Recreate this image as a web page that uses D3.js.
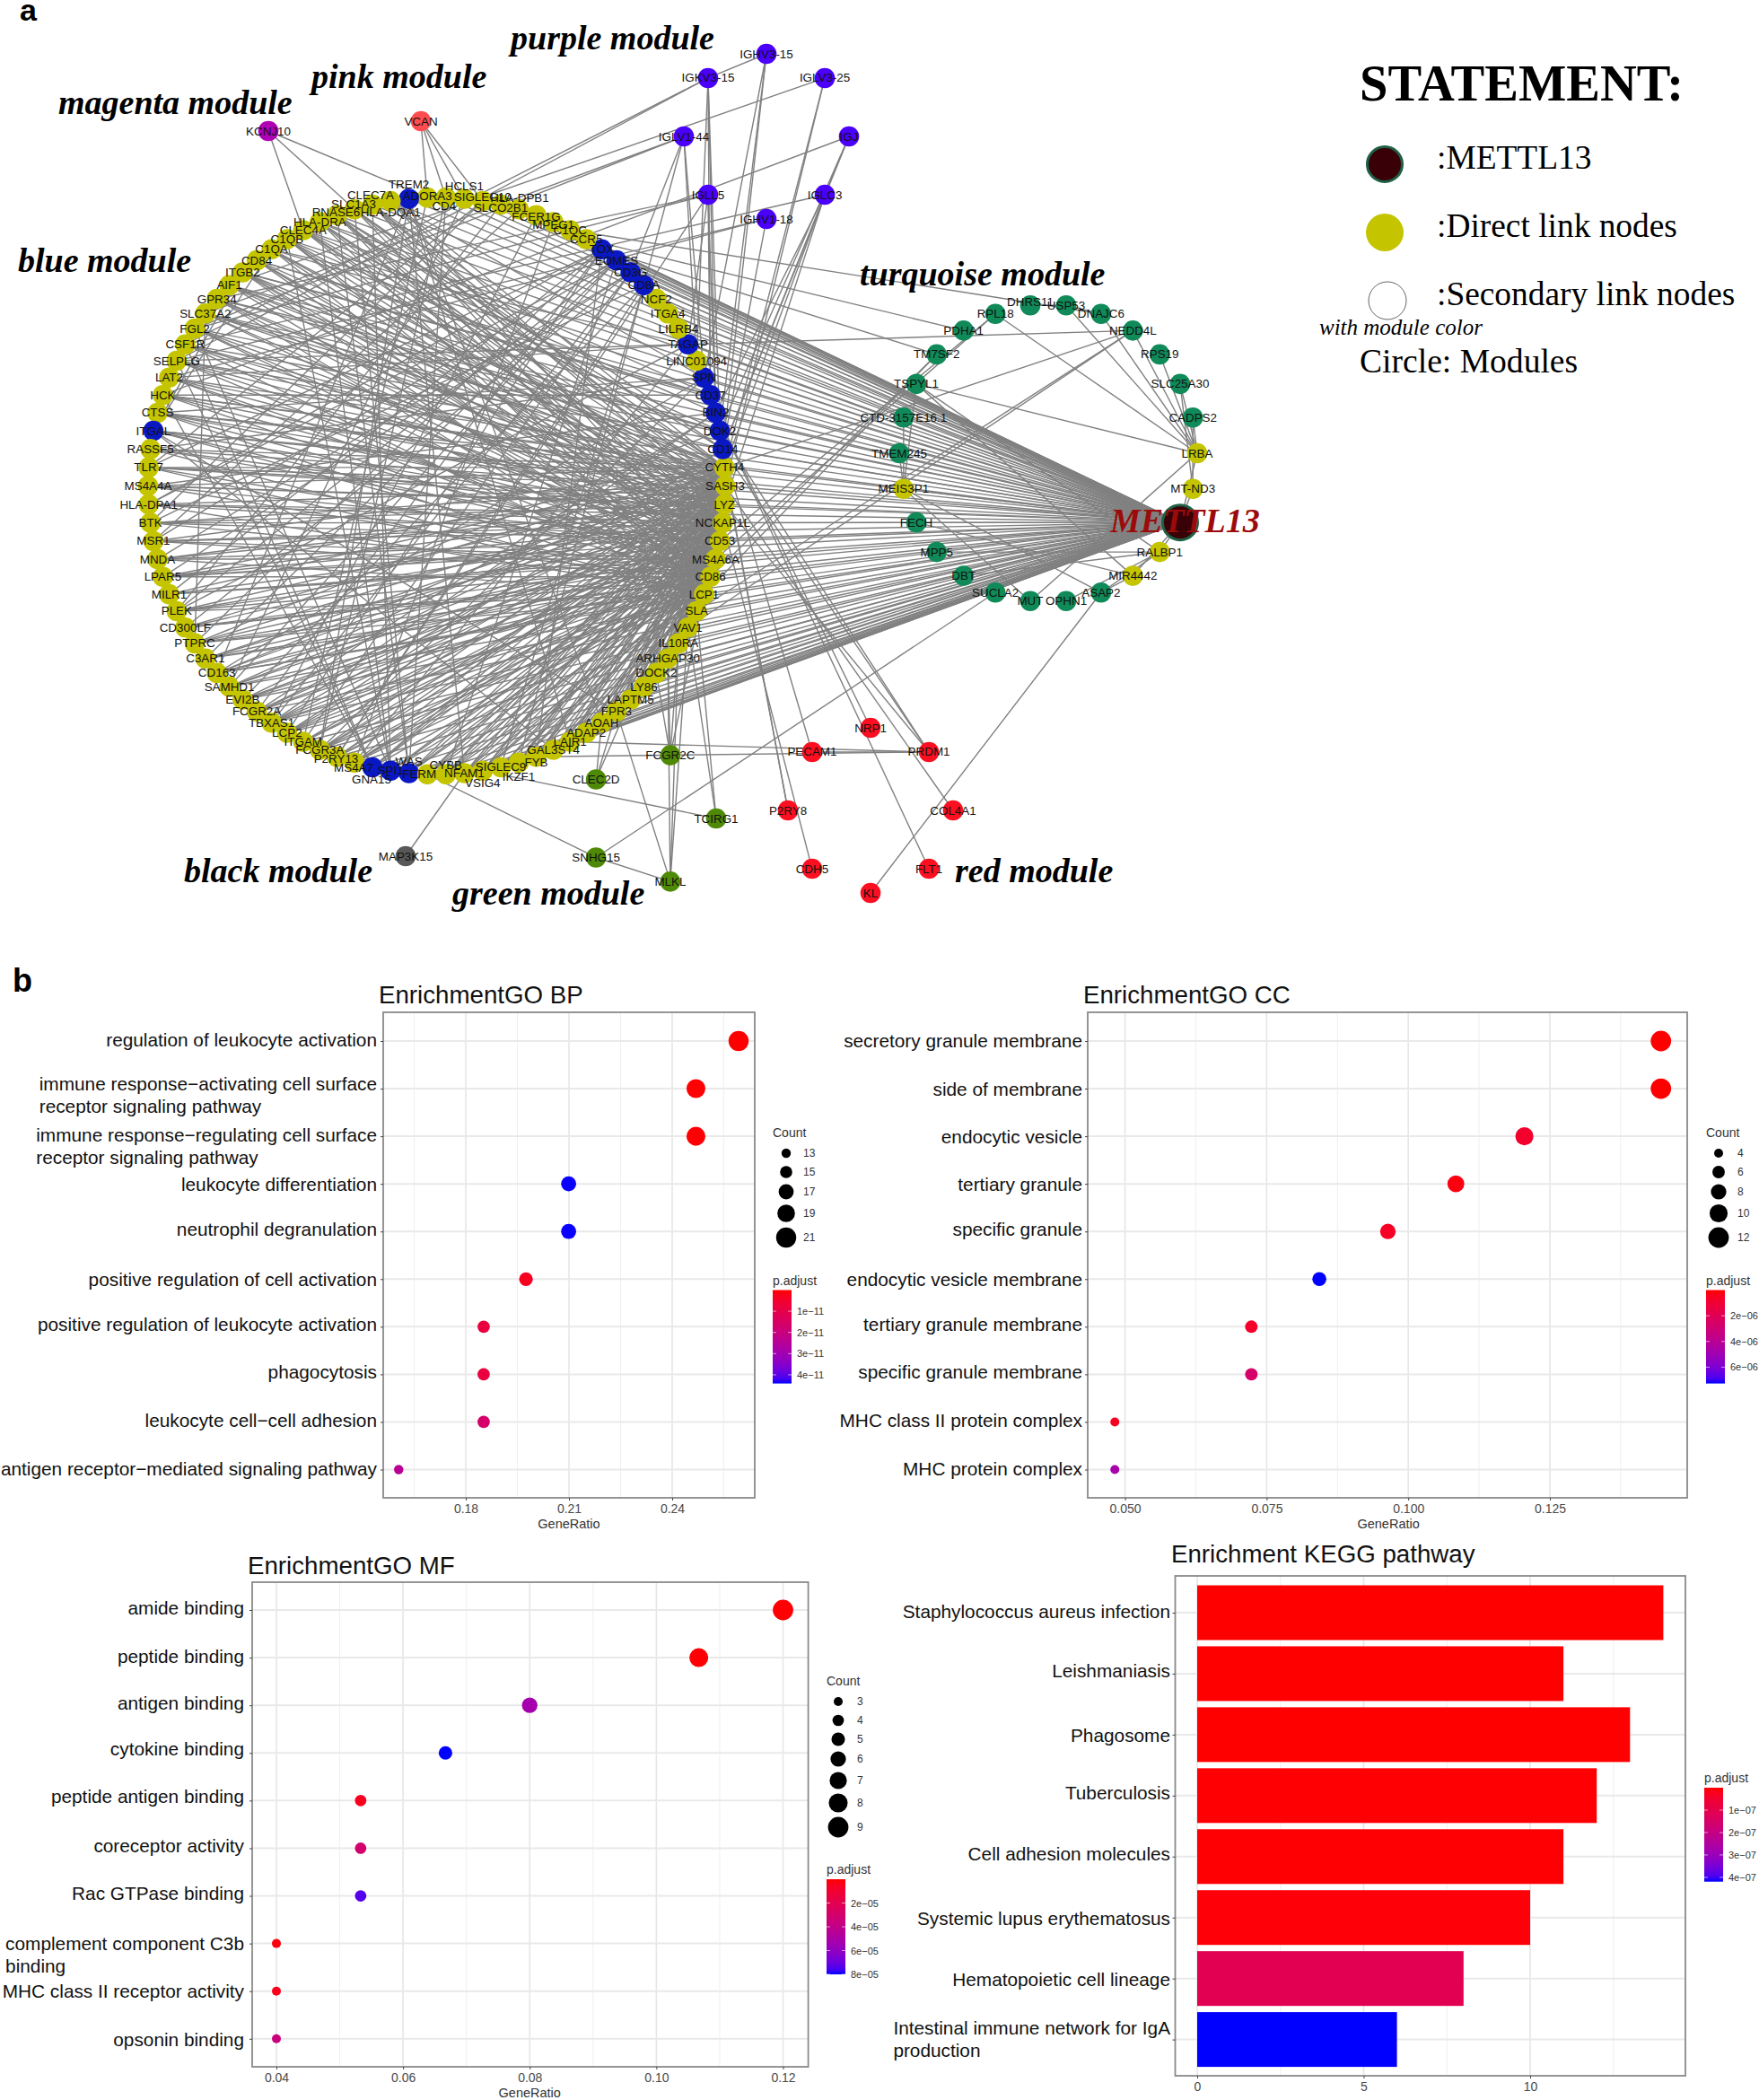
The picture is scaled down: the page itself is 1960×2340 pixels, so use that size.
<!DOCTYPE html>
<html><head><meta charset="utf-8">
<script src="https://cdn.jsdelivr.net/npm/d3@7"></script>
<style>html,body{margin:0;background:#fff}svg{display:block}text{font-family:"Liberation Sans",Arial,sans-serif}</style>
</head><body><div id="c"></div>
<script>
// ---------- network data ----------
const ringNodes=["ADORA3","TREM2","HLA-DQA1","CLEC7A","SLC1A3","RNASE6","HLA-DRA","CLEC4A","C1QB","C1QA","CD84","ITGB2","AIF1","GPR34","SLC37A2","FGL2","CSF1R","SELPLG","LAT2","HCK","CTSS","ITGAL","RASSF5","TLR7","MS4A4A","HLA-DPA1","BTK","MSR1","MNDA","LPAR5","MILR1","PLEK","CD300LF","PTPRC","C3AR1","CD163","SAMHD1","EVI2B","FCGR2A","TBXAS1","LCP2","ITGAM","FCGR3A","P2RY13","MS4A7","GNA15","SPI1","WAS","FERM","CYBB","NFAM1","VSIG4","SIGLEC9","IKZF1","FYB","GAL3ST4","LAIR1","ADAP2","AOAH","FPR3","LAPTM5","LY86","DOCK2","ARHGAP30","IL10RA","VAV1","SLA","LCP1","CD86","MS4A6A","CD53","NCKAP1L","LYZ","SASH3","CYTH4","CD14","DOK2","BIN2","CD37","SPN","LINC01094","TAGAP","LILRB4","ITGA4","NCF2","CD8A","CD3G","EOMES","TOX","CCR5","C1QC","MPEG1","FCER1G","HLA-DPB1","SLCO2B1","SIGLEC10","HCLS1","CD4"];
const ringBlue=["TREM2","ITGAL","GNA15","SPI1","WAS","CD14","DOK2","BIN2","CD37","SPN","TAGAP","CD8A","CD3G","EOMES","TOX"];
const turquoiseNodes=["LRBA","MT-ND3","METTL13","RALBP1","MIR4442","ASAP2","OPHN1","MUT","SUCLA2","DBT","MPP5","FECH","MEIS3P1","TMEM245","CTD-3157E16.1","TSPYL1","TM7SF2","PDHA1","RPL18","DHRS11","USP53","DNAJC6","NEDD4L","RPS19","SLC25A30","CADPS2"];
const directYellow=["LRBA","MT-ND3","RALBP1","MIR4442","MEIS3P1"];
const purpleNodes=["IGHV3-15","IGLV3-25","IGJ","IGLC3","IGHV1-18","IGLL5","IGLV1-44","IGKV3-15"];
const redNodes=["NRP1","PRDM1","COL4A1","FLT1","KL","CDH5","P2RY8","PECAM1"];
const greenNodes=["FCGR2C","TCIRG1","MLKL","SNHG15","CLEC2D"];
const pinkNodes=["VCAN"],magentaNodes=["KCNJ10"],blackNodes=["MAP3K15"];
const satelliteEdges=[
"KCNJ10|CLEC4A","KCNJ10|SLC1A3","KCNJ10|ADORA3","VCAN|CD4","VCAN|HCLS1","VCAN|SIGLEC10","VCAN|ADORA3",
"IGKV3-15|CSF1R","IGKV3-15|SELPLG","IGKV3-15|CD37","IGKV3-15|DOK2","IGKV3-15|BIN2","IGKV3-15|LINC01094","IGHV3-15|IGKV3-15","IGHV3-15|DOK2","IGHV3-15|CD14","IGHV3-15|SPN",
"IGLV3-25|AIF1","IGLV3-25|CYTH4","IGLV3-25|SASH3","IGLV1-44|FGL2","IGLV1-44|SLC37A2","IGLV1-44|SPN","IGLV1-44|LINC01094","IGLV1-44|CD3G","IGLV1-44|CD8A",
"IGLL5|GPR34","IGLL5|FGL2","IGLL5|BIN2","IGLL5|CD37","IGLL5|TAGAP","IGLL5|P2RY13","IGJ|HCK","IGJ|IGLC3","IGJ|DOK2","IGJ|CD14",
"IGLC3|CSF1R","IGLC3|CD14","IGLC3|CYTH4","IGLC3|LYZ","IGLC3|BIN2","IGHV1-18|SELPLG","IGHV1-18|LAT2","IGHV1-18|CD14",
"DNAJC6|C1QC","PDHA1|CCR5","TM7SF2|TOX","NEDD4L|TAGAP","NEDD4L|CYTH4","NEDD4L|VAV1","NEDD4L|SLA","RPL18|CD53","RPL18|MS4A6A","TM7SF2|LCP1","TM7SF2|CD86",
"TSPYL1|LRBA","TSPYL1|MIR4442","TSPYL1|RALBP1","TSPYL1|MEIS3P1","CTD-3157E16.1|MEIS3P1","TMEM245|MEIS3P1","RPL18|LRBA","USP53|LRBA","DNAJC6|LRBA","NEDD4L|LRBA","RPS19|LRBA","SLC25A30|LRBA","SLC25A30|MT-ND3","CADPS2|LRBA","CADPS2|MT-ND3","MEIS3P1|MUT","MEIS3P1|ASAP2","FECH|MIR4442","MPP5|RALBP1","DBT|RALBP1","MUT|LRBA","ASAP2|MIR4442","ASAP2|RALBP1","OPHN1|RALBP1","DHRS11|USP53","USP53|DNAJC6",
"SUCLA2|SNHG15","KL|ASAP2","FLT1|BIN2","NRP1|BIN2","PRDM1|LYZ","PRDM1|DOK2","PRDM1|CD14","COL4A1|SASH3","PECAM1|CD14","PECAM1|PRDM1","LAIR1|PRDM1","FYB|PRDM1","P2RY8|CD37","P2RY8|CYTH4","CDH5|NCKAP1L",
"FCGR2C|ARHGAP30","FCGR2C|IL10RA","FCGR2C|LCP1","FCGR2C|DOCK2","TCIRG1|VAV1","TCIRG1|SLA","TCIRG1|VSIG4","MLKL|IL10RA","MLKL|VAV1","MLKL|FPR3","MLKL|ARHGAP30","MLKL|SNHG15","CLEC2D|AOAH","CLEC2D|LAPTM5","CLEC2D|FPR3","SNHG15|FERM","MAP3K15|NFAM1"];
const ringEdges=[
"GNA15|SELPLG","WAS|CD4","SPI1|CLEC7A","SPI1|HLA-DRA","GNA15|HCK","GNA15|CSF1R","WAS|SLC1A3","WAS|RNASE6","SPI1|FGL2","SPI1|C1QB",
"TREM2|FCGR3A","TREM2|CD163","TREM2|NFAM1","TREM2|LAIR1","TREM2|AOAH","ITGAL|GAL3ST4","ITGAL|ITGB2","ITGAL|C1QA","ITGAL|FPR3",
"TOX|TLR7","TOX|MILR1","TOX|PTPRC","TOX|FCGR2A","TOX|LCP2","TOX|FYB","EOMES|HLA-DPA1","EOMES|MSR1","EOMES|PLEK","EOMES|C3AR1","EOMES|SAMHD1","EOMES|CYBB","CD3G|MNDA","CD3G|LPAR5","CD3G|CD300LF","CD3G|TBXAS1","CD3G|ITGAM","CD8A|BTK","CD8A|EVI2B","CD8A|P2RY13","CD8A|IKZF1","CD8A|SIGLEC9",
"TAGAP|SELPLG","TAGAP|PLEK","TAGAP|LAT2","TAGAP|C1QA","TAGAP|MS4A7","SPN|RASSF5","SPN|CD163","SPN|CTSS","SPN|HLA-DQA1","SPN|FCGR3A","CD37|CD84","CD37|ITGB2","CD37|HCK","CD37|HLA-DRA","BIN2|CLEC4A","BIN2|MS4A4A","BIN2|FCGR2A","BIN2|TBXAS1","DOK2|C1QB","DOK2|AIF1","DOK2|GPR34","DOK2|PTPRC","CD14|SLC37A2","CD14|RNASE6","CD14|CLEC7A","CD14|LCP2",
"SLC37A2|PTPRC","HLA-DPA1|TOX","SIGLEC10|TLR7","SIGLEC10|BTK","HLA-DPB1|MSR1","FCER1G|TBXAS1","SLCO2B1|PLEK","CD4|FCGR3A","ADORA3|ITGAM","HCLS1|SAMHD1","MPEG1|MS4A7"];
// hub genes on the right of the ring, and which ring genes (HLA-DQA1 ... IL10RA, in ring order) each one links to
const hubGenes=["CYTH4","SASH3","LYZ","NCKAP1L","CD53","MS4A6A","CD86","LCP1"];
const hubFirst="HLA-DQA1";
const hubPartners=[
"101101001110100101101110010110100111010010110101110100101101001",
"011010110010111010010101101001011100101101010011010110100110110",
"110011010101001101100110101100101010110011010110100111001011001",
"001101101011010010111001010111010011001110101001011010110100111",
"010110011100101101001011100101001101110100101110101001011011010",
"100101100101110010110100011010110100101011100101010110100101101",
"011000101010010111010010110100101011010001011010010101011010010",
"000110010101001000101101001001010100011010100001101001100110101"];
// ---------- enrichment data ----------
const bpTerms=["regulation of leukocyte activation","immune response−activating cell surface\nreceptor signaling pathway","immune response−regulating cell surface\nreceptor signaling pathway","leukocyte differentiation","neutrophil degranulation","positive regulation of cell activation","positive regulation of leukocyte activation","phagocytosis","leukocyte cell−cell adhesion","antigen receptor−mediated signaling pathway"];
const bpRatio=[.2593,.2469,.2469,.2099,.2099,.1975,.1852,.1852,.1852,.1605];
const bpCount=[21,20,20,17,17,16,15,15,15,13];
const bpPadj=[1e-13,2e-13,3e-13,4.4e-11,4.4e-11,3e-12,8e-12,8e-12,1.6e-11,2.4e-11];
const ccTerms=["secretory granule membrane","side of membrane","endocytic vesicle","tertiary granule","specific granule","endocytic vesicle membrane","tertiary granule membrane","specific granule membrane","MHC class II protein complex","MHC protein complex"];
const ccRatio=[.1446,.1446,.1205,.1084,.0964,.0843,.0723,.0723,.0482,.0482];
const ccCount=[12,12,10,9,8,7,6,6,4,4];
const ccPadj=[1e-8,1e-8,8e-7,2e-7,6e-7,7.27e-6,7e-7,2.6e-6,5e-7,4.7e-6];
const mfTerms=["amide binding","peptide binding","antigen binding","cytokine binding","peptide antigen binding","coreceptor activity","Rac GTPase binding","complement component C3b\nbinding","MHC class II receptor activity","opsonin binding"];
const mfRatio=[.12,.1067,.08,.0667,.0533,.0533,.0533,.04,.04,.04];
const mfCount=[9,8,6,5,4,4,4,3,3,3];
const mfPadj=[5e-7,5e-7,5.3e-5,8e-5,5e-6,3e-5,7.4e-5,2e-6,4e-6,3.5e-5];
const keggTerms=["Staphylococcus aureus infection","Leishmaniasis","Phagosome","Tuberculosis","Cell adhesion molecules","Systemic lupus erythematosus","Hematopoietic cell lineage","Intestinal immune network for IgA\nproduction"];
const keggCount=[14,11,13,12,11,10,8,6];
const keggPadj=[1e-10,1e-10,1e-10,3e-9,3e-9,5e-9,1.1e-7,4.19e-7];

// ---------- canvas ----------
const svg=d3.select("#c").append("svg").attr("width",1960).attr("height",2340);
const gEdges=svg.append("g"),gNodes=svg.append("g"),gLabels=svg.append("g"),gTop=svg.append("g");

// ---------- network layout: every module is a circle of evenly spaced nodes ----------
const nodeColor={ring:"#c4c500",blue:"#0a18c4",turquoise:"#0f8a58",purple:"#4a00fa",red:"#fb0f20",green:"#4f8a06",pink:"#ff4c50",magenta:"#b000b4",black:"#585858"};
const modules=[
 {names:ringNodes,cx:486.5,cy:541.5,r:321.5,a0:-Math.PI/98,dir:-1,color:nodeColor.ring},
 {names:turquoiseNodes,cx:1168,cy:505,r:166,a0:Math.PI/2,dir:1,color:nodeColor.turquoise},
 {names:purpleNodes,cx:854,cy:152,r:92,a0:0,dir:1,color:nodeColor.purple},
 {names:redNodes,cx:970,cy:903,r:92,a0:0,dir:1,color:nodeColor.red},
 {names:greenNodes,cx:724,cy:912,r:74,a0:Math.PI/10,dir:1,color:nodeColor.green},
 {names:pinkNodes,cx:469,cy:135,r:0,a0:0,dir:1,color:nodeColor.pink},
 {names:magentaNodes,cx:299,cy:146,r:0,a0:0,dir:1,color:nodeColor.magenta},
 {names:blackNodes,cx:452,cy:954,r:0,a0:0,dir:1,color:nodeColor.black}];
const nodes=[],byName={};
modules.forEach(m=>{
  const angle=d3.scaleLinear().domain([0,m.names.length]).range([m.a0,m.a0+m.dir*2*Math.PI]);
  m.names.forEach((n,i)=>{
    const [dx,dy]=d3.pointRadial(angle(i),m.r);
    let color=m.color;
    if(ringBlue.includes(n))color=nodeColor.blue;
    if(directYellow.includes(n))color=nodeColor.ring;
    const o={name:n,x:m.cx+dx,y:m.cy+dy,color};
    nodes.push(o);byName[n]=o;
  });
});
const hub=byName["METTL13"];
const links=[];
ringNodes.concat(directYellow).forEach(n=>links.push([byName[n],hub]));
satelliteEdges.concat(ringEdges).forEach(e=>{const [a,b]=e.split("|");links.push([byName[a],byName[b]]);});
const partnerStart=ringNodes.indexOf(hubFirst);
hubGenes.forEach((h,k)=>{
  hubPartners[k].split("").forEach((bit,j)=>{ if(bit==="1")links.push([byName[ringNodes[partnerStart+j]],byName[h]]); });
});
gEdges.selectAll("line").data(links).join("line")
 .attr("x1",d=>d[0].x).attr("y1",d=>d[0].y).attr("x2",d=>d[1].x).attr("y2",d=>d[1].y)
 .attr("stroke","#808080").attr("stroke-width",1.4);
gNodes.selectAll("circle").data(nodes.filter(d=>d!==hub)).join("circle")
 .attr("cx",d=>d.x).attr("cy",d=>d.y).attr("r",11.3).attr("fill",d=>d.color);
gNodes.append("circle").attr("cx",hub.x).attr("cy",hub.y).attr("r",19.5).attr("fill","#3a0007").attr("stroke","#1e6045").attr("stroke-width",3);
const labelShift={"TREM2":[0,-16],"HLA-DQA1":[0,12],"CLEC7A":[-2,-11],"SLC1A3":[-1,-6],"RNASE6":[-1,-3],"CD4":[-2,9],"HCLS1":[0,-14],"SIGLEC10":[0,-5],"HLA-DPB1":[1,-13],"SLCO2B1":[0,3],"ADORA3":[0,-2],
 "WAS":[0,-13],"GNA15":[-1,14],"MS4A7":[-1,6],"P2RY13":[-1,2],"FERM":[-9,0],"CYBB":[0,-10],"VSIG4":[0,14],"IKZF1":[0,16],"FYB":[0,6],"DHRS11":[0,-4],"FCER1G":[0,2],"MPEG1":[0,3]};
gLabels.selectAll("text").data(nodes.filter(d=>d!==hub)).join("text")
 .attr("x",d=>d.x+(labelShift[d.name]?labelShift[d.name][0]:0))
 .attr("y",d=>d.y+(labelShift[d.name]?labelShift[d.name][1]:0))
 .attr("text-anchor","middle").attr("dominant-baseline","central")
 .attr("font-size",13.4).attr("fill","#111").text(d=>d.name);

// module titles
const serifFam='"Liberation Serif",serif';
const moduleTitles=[["purple module",569,55],["pink module",347,98],["magenta module",65,127],["blue module",20,303],["turquoise module",958,318],["black module",205,983],["green module",504,1008],["red module",1064,983]];
gTop.selectAll("text.mt").data(moduleTitles).join("text").attr("class","mt")
 .attr("x",d=>d[1]).attr("y",d=>d[2]).style("font-family",serifFam).attr("font-weight","bold").attr("font-style","italic").attr("font-size",38).attr("fill","#000").text(d=>d[0]);
gTop.append("text").attr("x",1237).attr("y",593).style("font-family",serifFam).attr("font-weight","bold").attr("font-style","italic").attr("font-size",38).attr("fill","#9c0b0b").text("METTL13");
gTop.append("text").attr("x",22).attr("y",23).attr("font-weight","bold").attr("font-size",34).text("a");
gTop.append("text").attr("x",14).attr("y",1105).attr("font-weight","bold").attr("font-size",36).text("b");

// statement legend
const stmt=[[":METTL13",188],[":Direct link nodes",264],[":Secondary link nodes",340]];
gTop.append("text").attr("x",1515).attr("y",112).style("font-family",serifFam).attr("font-weight","bold").attr("font-size",56.5).text("STATEMENT:");
gTop.selectAll("text.st").data(stmt).join("text").attr("class","st").attr("x",1601).attr("y",d=>d[1]).style("font-family",serifFam).attr("font-size",37.4).attr("fill","#000").text(d=>d[0]);
gTop.append("circle").attr("cx",1543).attr("cy",183).attr("r",19.5).attr("fill","#3a0007").attr("stroke","#1e6045").attr("stroke-width",3);
gTop.append("circle").attr("cx",1543).attr("cy",259).attr("r",21).attr("fill",nodeColor.ring);
gTop.append("circle").attr("cx",1546).attr("cy",335).attr("r",21).attr("fill","#fff").attr("stroke","#666").attr("stroke-width",1);
gTop.append("text").attr("x",1470).attr("y",373).style("font-family",serifFam).attr("font-style","italic").attr("font-size",25).text("with module color");
gTop.append("text").attr("x",1515).attr("y",415).style("font-family",serifFam).attr("font-size",37.6).text("Circle: Modules");

// ---------- enrichment panels ----------
const G=svg.append("g");
const pColor=dom=>d3.scaleLinear().domain(dom).range(["#ff0000","#0000ff"]).interpolate(d3.interpolateLab);
let gid=0;
function frame(o){
  const g=G.append("g");
  const grid=g.append("g");
  grid.selectAll("line.mi").data(o.minor).join("line").attr("class","mi").attr("x1",d=>o.x(d)).attr("x2",d=>o.x(d)).attr("y1",o.top).attr("y2",o.bottom).attr("stroke","#efefef").attr("stroke-width",1);
  grid.selectAll("line.ma").data(o.ticks).join("line").attr("class","ma").attr("x1",d=>o.x(d)).attr("x2",d=>o.x(d)).attr("y1",o.top).attr("y2",o.bottom).attr("stroke","#e6e6e6").attr("stroke-width",1.6);
  grid.selectAll("line.r").data(o.terms).join("line").attr("class","r").attr("x1",o.left).attr("x2",o.right).attr("y1",d=>o.y(d)).attr("y2",d=>o.y(d)).attr("stroke","#e9e9e9").attr("stroke-width",2);
  return g;
}
function dress(g,o){
  g.append("rect").attr("x",o.left).attr("y",o.top).attr("width",o.right-o.left).attr("height",o.bottom-o.top).attr("fill","none").attr("stroke","#8a8a8a").attr("stroke-width",1.8);
  const ax=g.append("g").attr("transform",`translate(0,${o.bottom})`).call(d3.axisBottom(o.x).tickValues(o.ticks).tickSize(3).tickPadding(4).tickFormat(o.fmt));
  ax.select(".domain").remove();
  ax.selectAll("line").attr("stroke","#444");
  ax.selectAll("text").attr("font-size",14).attr("fill","#4a4a4a");
  if(o.xTitle)g.append("text").attr("x",o.x(o.xMid)).attr("y",o.xTitleY).attr("text-anchor","middle").attr("font-size",14.5).attr("fill","#333").text(o.xTitle);
  const ay=g.append("g").attr("transform",`translate(${o.left},0)`).call(d3.axisLeft(o.y).tickSize(3).tickFormat(""));
  ay.select(".domain").remove();ay.selectAll("line").attr("stroke","#444");
  // category labels: wrapped lines share a left edge, ggplot-style
  g.selectAll("g.lab").data(o.terms).join("g").attr("class","lab").each(function(t,i){
    const lines=t.split("\n"),n=d3.select(this),yy=o.y(t)+o.nudge[i];
    const first=n.append("text").attr("x",o.labelX).attr("y",yy).attr("text-anchor","end").attr("dominant-baseline","central").attr("font-size",20.8).attr("fill","#111").text(lines[0]);
    if(lines[1]){const w=first.node().getComputedTextLength();
      n.append("text").attr("x",o.labelX-w).attr("y",yy+25).attr("dominant-baseline","central").attr("font-size",20.8).attr("fill","#111").text(lines[1]);}
  });
  g.append("text").attr("x",o.titleX).attr("y",o.titleY).attr("dominant-baseline","central").attr("font-size",27.7).attr("fill","#111").text(o.title);
}
function colorLegend(g,o,c){
  const id="gr"+(gid++);
  const gr=svg.append("defs").append("linearGradient").attr("id",id).attr("x1",0).attr("x2",0).attr("y1",0).attr("y2",1);
  d3.range(0,1.001,.05).forEach(t=>gr.append("stop").attr("offset",t).attr("stop-color",c(t*c.domain()[1])));
  const y=d3.scaleLinear().domain(c.domain()).range([c.y0,c.y1]);
  g.append("text").attr("x",c.x).attr("y",c.y0-11).attr("font-size",14).attr("fill","#333").attr("dominant-baseline","central").text("p.adjust");
  g.append("rect").attr("x",c.x).attr("y",c.y0).attr("width",21).attr("height",c.y1-c.y0).attr("fill",`url(#${id})`);
  c.ticks.forEach((t,i)=>{
    g.append("line").attr("x1",c.x).attr("x2",c.x+4).attr("y1",y(t)).attr("y2",y(t)).attr("stroke","#fff").attr("opacity",.6);
    g.append("line").attr("x1",c.x+17).attr("x2",c.x+21).attr("y1",y(t)).attr("y2",y(t)).attr("stroke","#fff").attr("opacity",.6);
    g.append("text").attr("x",c.x+27).attr("y",y(t)).attr("dominant-baseline","central").attr("font-size",11).attr("fill","#333").text(c.labels[i]);
  });
}
function dotPanel(o,terms,ratio,count,padj,legend){
  o.terms=terms;
  o.x=d3.scaleLinear().domain(o.xd).range(o.xr);
  o.y=d3.scalePoint().domain(terms).range([o.y0,o.y1]);
  const g=frame(o);
  const r=d3.scalePow().exponent(.5).domain(d3.extent(count)).range(o.rr);
  const c=pColor(legend.color.domain);
  g.selectAll("circle.d").data(terms).join("circle").attr("class","d").attr("cx",(d,i)=>o.x(ratio[i])).attr("cy",d=>o.y(d)).attr("r",(d,i)=>r(count[i])).attr("fill",(d,i)=>c(padj[i]));
  dress(g,o);
  g.append("text").attr("x",legend.x).attr("y",legend.titleY).attr("font-size",14).attr("fill","#333").attr("dominant-baseline","central").text("Count");
  legend.values.forEach((v,i)=>{
    g.append("circle").attr("cx",legend.dotX).attr("cy",legend.ys[i]).attr("r",r(v)).attr("fill","#000");
    g.append("text").attr("x",legend.labelX).attr("y",legend.ys[i]).attr("dominant-baseline","central").attr("font-size",12).attr("fill","#333").text(v);
  });
  const cs=c.copy();cs.y0=legend.color.y0;cs.y1=legend.color.y1;cs.x=legend.x;cs.ticks=legend.color.ticks;cs.labels=legend.color.labels;
  colorLegend(g,o,cs);
}
dotPanel({title:"EnrichmentGO BP",titleX:422,titleY:1108,left:427,right:841,top:1128,bottom:1669,xd:[.18,.24],xr:[519,749],ticks:[.18,.21,.24],minor:[.165,.195,.225,.255],y0:1160,y1:1637.5,rr:[5.2,11.2],fmt:d3.format(".2f"),labelX:420,nudge:[-1.5,-6,-1.5,0,-3,0,-3,-3,-1.5,-1.5],xTitle:"GeneRatio",xMid:.21,xTitleY:1703},
 bpTerms,bpRatio,bpCount,bpPadj,{x:861,titleY:1262,dotX:876,labelX:895,values:[13,15,17,19,21],ys:[1285,1306,1328,1352,1379],color:{domain:[0,4.41e-11],y0:1437.5,y1:1541.6,ticks:[1e-11,2e-11,3e-11,4e-11],labels:["1e−11","2e−11","3e−11","4e−11"]}});
dotPanel({title:"EnrichmentGO CC",titleX:1207,titleY:1108,left:1212,right:1880,top:1128,bottom:1669,xd:[.05,.125],xr:[1253.6,1727],ticks:[.05,.075,.1,.125],minor:[.0625,.0875,.1125,.1375],y0:1160,y1:1637.5,rr:[5,11.4],fmt:d3.format(".3f"),labelX:1206,nudge:[-1,0,0,0,-3,0,-3,-3,-1.5,-1.5],xTitle:"GeneRatio",xMid:.0965,xTitleY:1703},
 ccTerms,ccRatio,ccCount,ccPadj,{x:1901,titleY:1262,dotX:1915,labelX:1936,values:[4,6,8,10,12],ys:[1285,1306,1328,1352,1379],color:{domain:[0,7.27e-6],y0:1437.5,y1:1541.6,ticks:[2e-6,4e-6,6e-6],labels:["2e−06","4e−06","6e−06"]}});
dotPanel({title:"EnrichmentGO MF",titleX:276,titleY:1744,left:281,right:900.6,top:1763,bottom:2303,xd:[.04,.12],xr:[308,872.5],ticks:[.04,.06,.08,.1,.12],minor:[.05,.07,.09,.11],y0:1794,y1:2271.8,rr:[5,11.4],fmt:d3.format(".2f"),labelX:272,nudge:[-3,-1.5,-3,-4.5,-4.5,-3,-3,0,0,1],xTitle:"GeneRatio",xMid:.08,xTitleY:2337},
 mfTerms,mfRatio,mfCount,mfPadj,{x:921,titleY:1873,dotX:934,labelX:955,values:[3,4,5,6,7,8,9],ys:[1896,1917,1938,1960,1984,2009,2036],color:{domain:[0,8e-5],y0:2094,y1:2200,ticks:[2e-5,4e-5,6e-5,8e-5],labels:["2e−05","4e−05","6e−05","8e−05"]}});
(function(){
  const o={title:"Enrichment KEGG pathway",titleX:1305,titleY:1731,left:1309.5,right:1878,top:1756,bottom:2313,fmt:d3.format("d"),labelX:1304,terms:keggTerms,ticks:[0,5,10],minor:[2.5,7.5,12.5],nudge:[-1.5,-3,1,-3,-3,1,1,-13]};
  o.x=d3.scaleLinear().domain([0,10]).range([1334,1705]);
  o.y=d3.scalePoint().domain(keggTerms).range([1797,2272.6]);
  const g=frame(o);
  const c=pColor([0,4.19e-7]);
  g.selectAll("rect.b").data(keggTerms).join("rect").attr("class","b").attr("x",o.x(0)).attr("width",(d,i)=>o.x(keggCount[i])-o.x(0)).attr("y",d=>o.y(d)-30.5).attr("height",61).attr("fill",(d,i)=>c(keggPadj[i]));
  dress(g,o);
  const cs=c.copy();cs.y0=1992;cs.y1=2096.7;cs.x=1899;cs.ticks=[1e-7,2e-7,3e-7,4e-7];cs.labels=["1e−07","2e−07","3e−07","4e−07"];
  colorLegend(g,o,cs);
})();
</script></body></html>
